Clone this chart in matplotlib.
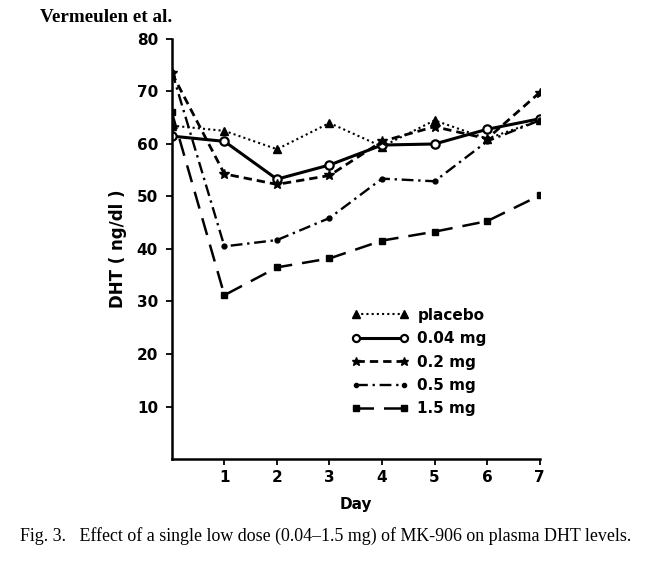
import matplotlib
matplotlib.use("Agg")
import matplotlib.pyplot as plt

days = [0, 1, 2, 3, 4, 5, 6, 7]
placebo = [63.5, 62.5, 59.0, 64.0, 59.5, 64.5, 61.0, 64.5]
mg004 = [61.5, 60.5, 53.3, 56.0, 59.8, 60.0, 62.8, 64.8]
mg02 = [73.5, 54.3, 52.3, 54.0, 60.5, 63.3, 61.0, 69.8]
mg05 = [73.8, 40.5, 41.7, 45.9, 53.4, 52.9, 60.5, 64.5]
mg15 = [66.0, 31.2, 36.5, 38.2, 41.6, 43.3, 45.3, 50.2]
labels = ["placebo", "0.04 mg", "0.2 mg", "0.5 mg", "1.5 mg"]
yticks = [10, 20, 30, 40, 50, 60, 70, 80]
xticks = [1, 2, 3, 4, 5, 6, 7]

plt.rcParams['font.family'] = ['DejaVu Sans']
fig = plt.figure(figsize=(6.51, 5.65), dpi=100)
ax = fig.add_axes([0.264, 0.1876, 0.565, 0.7434])

k = 'black'
h1, = ax.plot(days, placebo, color=k, lw=1.5, ls=(0, (1, 1.5)), marker='^', ms=6,
              mfc=k, mec=k)
h2, = ax.plot(days, mg004, color=k, lw=2.2, ls='-', marker='o', ms=6,
              mfc='white', mec=k, mew=1.6)
h3, = ax.plot(days, mg02, color=k, lw=2.0, ls=(0, (3, 1.8)), marker='*', ms=7.5,
              mfc=k, mec=k)
h4, = ax.plot(days, mg05, color=k, lw=1.7, ls=(0, (5, 2, 1, 2)), marker='o', ms=3.5,
              mfc=k, mec=k)
h5, = ax.plot(days, mg15, color=k, lw=1.8, ls=(0, (7, 4)), marker='s', ms=5,
              mfc=k, mec=k)

ax.set_xlim(0, 7)
ax.set_ylim(0, 80)
ax.set_xticks(xticks)
ax.set_yticks(yticks)
ax.set_xticklabels([str(v) for v in xticks], fontsize=11, fontweight='bold')
ax.set_yticklabels([str(v) for v in yticks], fontsize=11, fontweight='bold')
ax.tick_params(axis='y', direction='out', length=4, width=1.3, pad=6)
ax.tick_params(axis='x', direction='out', length=4, width=1.3, pad=4)
for s in ['top', 'right']:
    ax.spines[s].set_visible(False)
for s in ['left', 'bottom']:
    ax.spines[s].set_linewidth(1.8)

ax.set_xlabel("Day", fontsize=11, fontweight='bold')
ax.xaxis.set_label_coords(0.5, -0.09)
ax.set_ylabel("DHT ( ng/dl )", fontsize=12, fontweight='bold')
ax.yaxis.set_label_coords(-0.122, 0.5)

leg = ax.legend([h1, h2, h3, h4, h5], labels, loc='upper left',
                bbox_to_anchor=(0.489, 0.36), frameon=False, numpoints=2,
                handlelength=3.7, handletextpad=0.6, labelspacing=0.55,
                borderpad=0, borderaxespad=0, markerscale=0.85,
                prop={'size': 11, 'weight': 'bold'})

fig.text(0.061, 0.969, "Vermeulen et al.", family='Liberation Serif',
         fontsize=13.8, fontweight='bold', ha='left', va='center')
fig.text(0.5, 0.051,
         "Fig. 3.   Effect of a single low dose (0.04\u20131.5 mg) of MK-906 on plasma DHT levels.",
         family='Liberation Serif', fontsize=12.9, ha='center', va='center')

fig.savefig("out.png", dpi=100)
